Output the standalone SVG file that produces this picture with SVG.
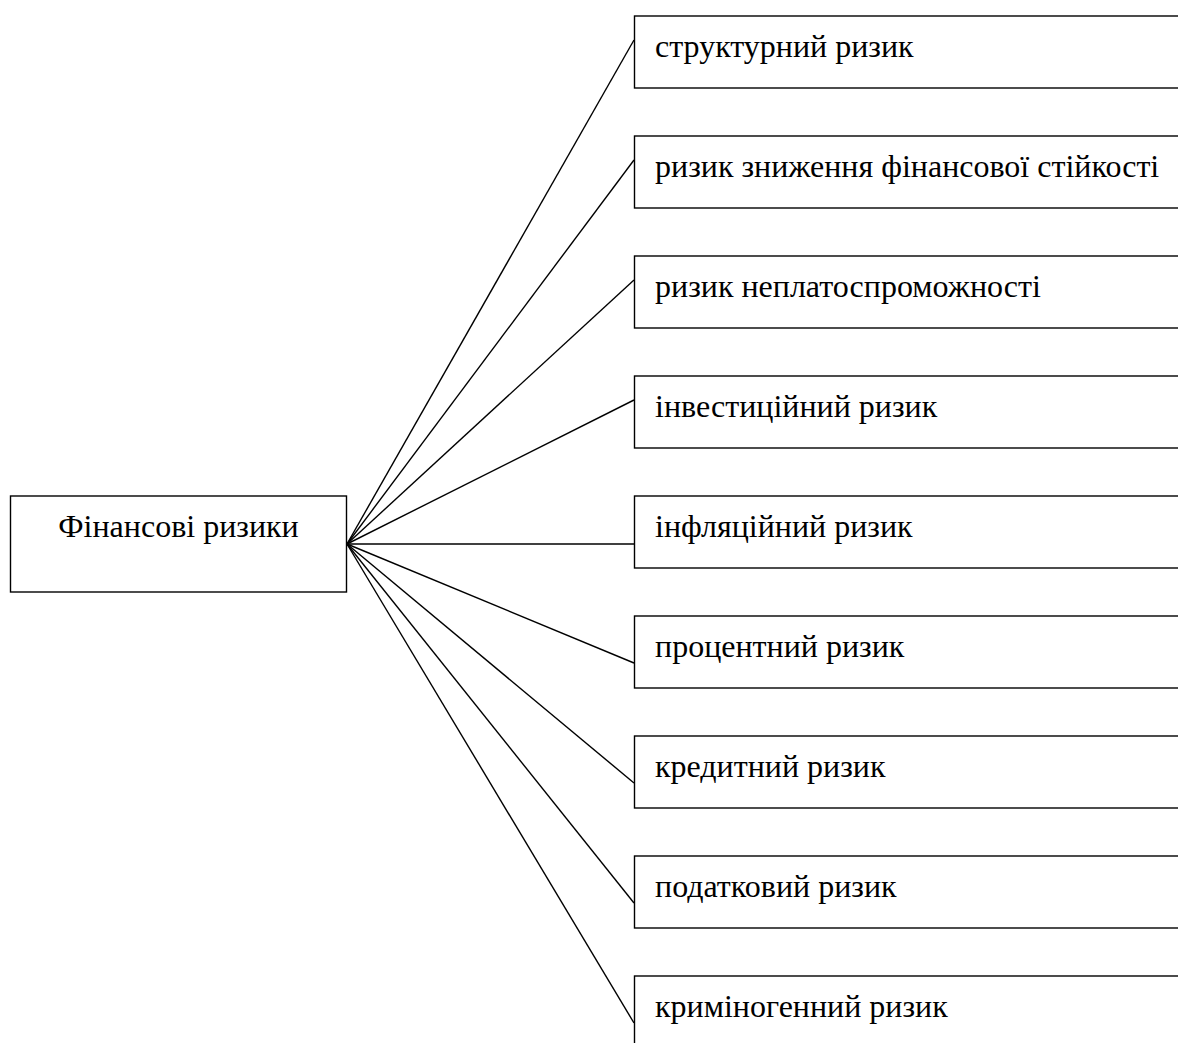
<svg xmlns="http://www.w3.org/2000/svg" width="1178" height="1043" viewBox="0 0 1178 1043">
<style>
.box{fill:#fff;stroke:#000;stroke-width:1.4}
.ln{stroke:#000;stroke-width:1.4;fill:none}
.t{font-family:"Liberation Serif","Times New Roman",serif;font-size:32px;fill:#000}
</style>
<rect width="1178" height="1043" fill="#fff"/>
<g id="connectors">
<line class="ln" x1="347" y1="544" x2="634" y2="40"/>
<line class="ln" x1="347" y1="544" x2="634" y2="160"/>
<line class="ln" x1="347" y1="544" x2="634" y2="280"/>
<line class="ln" x1="347" y1="544" x2="634" y2="400"/>
<line class="ln" x1="347" y1="544" x2="634" y2="544"/>
<line class="ln" x1="347" y1="544" x2="634" y2="663"/>
<line class="ln" x1="347" y1="544" x2="634" y2="783"/>
<line class="ln" x1="347" y1="544" x2="634" y2="903"/>
<line class="ln" x1="347" y1="544" x2="634" y2="1023"/>
</g>
<g id="root"><rect class="box" x="10.5" y="496" width="336" height="96"/><text class="t" x="178.5" y="537" text-anchor="middle">Фінансові ризики</text></g>
<g id="n1"><rect class="box" x="634.5" y="16" width="560" height="72"/><text class="t" x="655" y="57">структурний ризик</text></g>
<g id="n2"><rect class="box" x="634.5" y="136" width="560" height="72"/><text class="t" x="655" y="177">ризик зниження фінансової стійкості</text></g>
<g id="n3"><rect class="box" x="634.5" y="256" width="560" height="72"/><text class="t" x="655" y="297">ризик неплатоспроможності</text></g>
<g id="n4"><rect class="box" x="634.5" y="376" width="560" height="72"/><text class="t" x="655" y="417">інвестиційний ризик</text></g>
<g id="n5"><rect class="box" x="634.5" y="496" width="560" height="72"/><text class="t" x="655" y="537">інфляційний ризик</text></g>
<g id="n6"><rect class="box" x="634.5" y="616" width="560" height="72"/><text class="t" x="655" y="657">процентний ризик</text></g>
<g id="n7"><rect class="box" x="634.5" y="736" width="560" height="72"/><text class="t" x="655" y="777">кредитний ризик</text></g>
<g id="n8"><rect class="box" x="634.5" y="856" width="560" height="72"/><text class="t" x="655" y="897">податковий ризик</text></g>
<g id="n9"><rect class="box" x="634.5" y="976" width="560" height="72"/><text class="t" x="655" y="1017">криміногенний ризик</text></g>
</svg>
